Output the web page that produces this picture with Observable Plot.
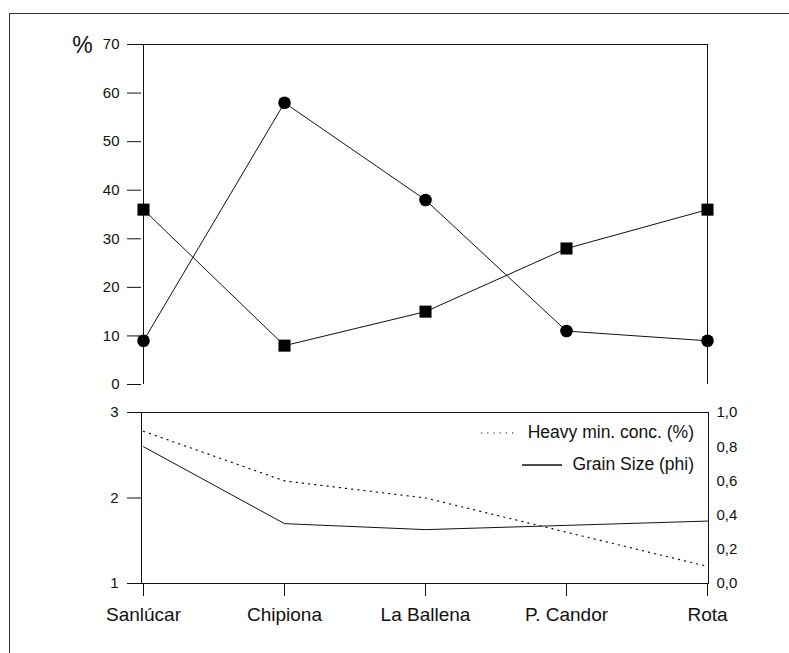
<!DOCTYPE html>
<html>
<head>
<meta charset="utf-8">
<script src="https://cdn.jsdelivr.net/npm/d3@7"></script>
<script src="https://cdn.jsdelivr.net/npm/@observablehq/plot@0.6"></script>
<style>
  html, body { margin: 0; padding: 0; background: white; }
  #wrap { position: relative; width: 789px; height: 653px; overflow: hidden; font-family: "Liberation Sans", Arial, sans-serif; }
  #frame { position: absolute; left: 9px; top: 13px; width: 900px; height: 800px; border: 1px solid #333; box-sizing: border-box; }
  .layer { position: absolute; left: 0; }
  .legend-item { position: absolute; font-size: 17.5px; line-height: 20px; color: #111; white-space: nowrap; }
</style>
</head>
<body>
<div id="wrap">
  <div id="frame"></div>
</div>
<script>
const sites = ["Sanlúcar", "Chipiona", "La Ballena", "P. Candor", "Rota"];
const circleSeries = [9, 58, 38, 11, 9];
const squareSeries = [36, 8, 15, 28, 36];
const grainSize = [2.6, 1.7, 1.63, 1.68, 1.73];
const heavyMin = [0.89, 0.60, 0.50, 0.30, 0.10];
const pctTicks = [0, 10, 20, 30, 40, 50, 60, 70];
const gsTicks = [1, 2, 3];
const hmTicks = [0, 0.2, 0.4, 0.6, 0.8, 1.0];
const legendLabels = ["Heavy min. conc. (%)", "Grain Size (phi)"];

const topData = sites.map((s, i) => ({site: s, circ: circleSeries[i], sq: squareSeries[i]}));
const botData = sites.map((s, i) => ({site: s, gs: grainSize[i], hm: heavyMin[i]}));

const font = "'Liberation Sans', Arial, sans-serif";
const W = 789;
const wrap = document.getElementById("wrap");

function place(el, y) {
  el.classList.add("layer");
  el.style.top = y + "px";
  wrap.appendChild(el);
}

// Top panel
const topPlot = Plot.plot({
  width: W, height: 400,
  marginLeft: 141, marginRight: 81, marginTop: 44, marginBottom: 16,
  style: {fontFamily: font, fontSize: "15px", color: "#111", background: "transparent", overflow: "visible"},
  x: {type: "point", domain: sites, padding: 0, axis: null},
  y: {domain: [0, 70], axis: null},
  marks: [
    Plot.axisY({ticks: pctTicks, tickSize: 14, tickPadding: 8, label: null, fontSize: 15}),
    Plot.ruleY([70], {stroke: "#111"}),
    Plot.ruleX([sites[0], sites[sites.length - 1]], {stroke: "#111"}),
    Plot.line(topData, {x: "site", y: "circ", stroke: "#111", strokeWidth: 1}),
    Plot.line(topData, {x: "site", y: "sq", stroke: "#111", strokeWidth: 1}),
    Plot.dot(topData, {x: "site", y: "circ", r: 6.3, fill: "#000", symbol: "circle"}),
    Plot.dot(topData, {x: "site", y: "sq", r: 6.8, fill: "#000", symbol: "square"}),
    Plot.text(["%"], {frameAnchor: "top-left", textAnchor: "middle", lineAnchor: "middle", dx: -59, dy: 1, fontSize: 23, fill: "#111"})
  ]
});
place(topPlot, 0);

// Bottom panel, left scale (grain size)
const botA = Plot.plot({
  width: W, height: 253,
  marginLeft: 141, marginRight: 81, marginTop: 12, marginBottom: 70,
  style: {fontFamily: font, fontSize: "15px", color: "#111", background: "transparent", overflow: "visible"},
  x: {type: "point", domain: sites, padding: 0},
  y: {domain: [1, 3]},
  marks: [
    Plot.frame({stroke: "#111"}),
    Plot.axisY({ticks: gsTicks, tickSize: 14, tickPadding: 9, tickFormat: "d", label: null, fontSize: 15}),
    Plot.axisX({tickSize: 13, tickPadding: 11, label: null, fontSize: 19}),
    Plot.line(botData, {x: "site", y: "gs", stroke: "#111", strokeWidth: 1})
  ]
});
place(botA, 400);

// Bottom panel, right scale (heavy mineral concentration)
const botB = Plot.plot({
  width: W, height: 253,
  marginLeft: 141, marginRight: 81, marginTop: 12, marginBottom: 70,
  style: {fontFamily: font, fontSize: "15px", color: "#111", background: "transparent", overflow: "visible"},
  x: {type: "point", domain: sites, padding: 0, axis: null},
  y: {domain: [0, 1], axis: null},
  marks: [
    Plot.axisY({anchor: "right", ticks: hmTicks, tickSize: 0, tickPadding: 8, label: null, fontSize: 15,
      tickFormat: d => d.toFixed(1).replace(".", ",")}),
    Plot.line(botData, {x: "site", y: "hm", stroke: "#111", strokeWidth: 1.2, strokeDasharray: "1.2,5"})
  ]
});
place(botB, 400);

// Legend
function legendItem(label, dashed, lineLeft, lineRight, y, textRight) {
  const svgNS = "http://www.w3.org/2000/svg";
  const svg = document.createElementNS(svgNS, "svg");
  svg.setAttribute("width", lineRight - lineLeft);
  svg.setAttribute("height", 4);
  svg.style.position = "absolute";
  svg.style.left = lineLeft + "px";
  svg.style.top = (y - 2) + "px";
  const ln = document.createElementNS(svgNS, "line");
  ln.setAttribute("x1", 0); ln.setAttribute("x2", lineRight - lineLeft);
  ln.setAttribute("y1", 2); ln.setAttribute("y2", 2);
  ln.setAttribute("stroke", "#111");
  ln.setAttribute("stroke-width", dashed ? 1.2 : 1.3);
  if (dashed) ln.setAttribute("stroke-dasharray", "1.2,5");
  svg.appendChild(ln);
  wrap.appendChild(svg);
  const t = document.createElement("div");
  t.className = "legend-item";
  t.textContent = label;
  t.style.right = (W - textRight) + "px";
  t.style.top = (y - 11) + "px";
  wrap.appendChild(t);
}
legendItem(legendLabels[0], true, 481, 514, 433, 694);
legendItem(legendLabels[1], false, 522, 562, 465, 694);
</script>
</body>
</html>
